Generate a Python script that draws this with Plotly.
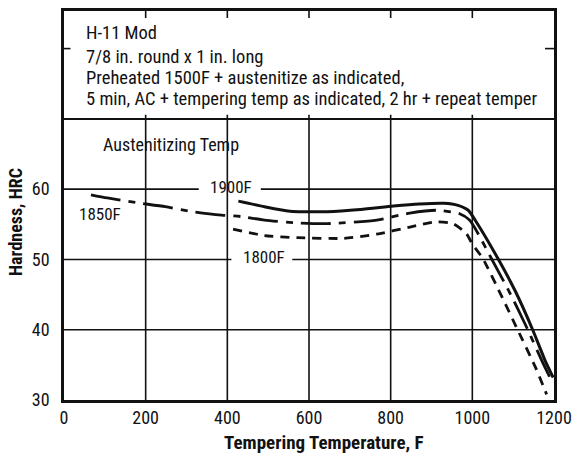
import plotly.graph_objects as go

# Tempering response of H-11 Mod for three austenitizing temperatures
temp_1900 = [427, 491, 548, 645, 726, 807, 870, 930, 965, 990, 1009, 1062, 1106, 1147, 1179, 1198]
hrc_1900 = [58.3, 57.5, 56.9, 56.8, 57.1, 57.6, 57.9, 58.0, 57.7, 57.0, 55.4, 50.2, 45.4, 40.1, 35.5, 33.2]

temp_1850 = [66, 106, 175, 248, 313, 386, 434, 491, 572, 645, 766, 847, 912, 969, 993, 1009,
             1046, 1094, 1135, 1171, 1190]
hrc_1850 = [59.2, 58.75, 58.1, 57.5, 56.8, 56.3, 56.1, 55.6, 55.2, 55.1, 55.6, 56.6, 57.0, 56.5,
            55.6, 54.2, 50.2, 45.0, 40.1, 35.5, 33.2]

temp_1800 = [414, 491, 572, 685, 766, 847, 912, 953, 985, 1001, 1025, 1074, 1110, 1155, 1182]
hrc_1800 = [54.3, 53.4, 53.1, 53.0, 53.6, 54.6, 55.35, 55.1, 53.7, 52.1, 50.2, 44.5, 40.1, 34.6, 30.8]

x_ticks = [0, 200, 400, 600, 800, 1000, 1200]
y_ticks = [30, 40, 50, 60]
h_grid = [40, 50, 60]
v_grid = [200, 400, 600, 800, 1000]

note_lines = [
    "H-11 Mod",
    "7/8 in. round x 1 in. long",
    "Preheated 1500F + austenitize as indicated,",
    "5 min, AC + tempering temp as indicated, 2 hr + repeat temper",
]

X_MIN, X_MAX = 0, 1200
Y_MIN, Y_MAX = 30, 85.35
BOX_BOTTOM = 70

NARROW = "Liberation Sans Narrow, Arial Narrow, Roboto Condensed, sans-serif"
INK = "#111111"

fig = go.Figure()

fig.add_trace(go.Scatter(x=temp_1900, y=hrc_1900, mode="lines", name="1900F",
                         line=dict(color=INK, width=3, shape="spline", smoothing=0.6)))
fig.add_trace(go.Scatter(x=temp_1850, y=hrc_1850, mode="lines", name="1850F",
                         line=dict(color=INK, width=2.8, shape="spline", smoothing=0.6,
                                   dash="30px,8px,7px,8px")))
fig.add_trace(go.Scatter(x=temp_1800, y=hrc_1800, mode="lines", name="1800F",
                         line=dict(color=INK, width=2.8, shape="spline", smoothing=0.6,
                                   dash="9px,7px")))

shapes = []
grid_line = dict(color=INK, width=1.6)

# horizontal grid, broken where the curve labels sit on the line
gaps = {60: (330, 482), 50: (410, 559)}
for y in h_grid:
    if y in gaps:
        a, b = gaps[y]
        segs = [(X_MIN, a), (b, X_MAX)]
    else:
        segs = [(X_MIN, X_MAX)]
    for x0, x1 in segs:
        shapes.append(dict(type="line", xref="x", yref="y", x0=x0, x1=x1, y0=y, y1=y,
                           line=grid_line, layer="below"))

# bottom edge of the note box
shapes.append(dict(type="line", xref="x", yref="y", x0=X_MIN, x1=X_MAX, y0=BOX_BOTTOM,
                   y1=BOX_BOTTOM, line=dict(color=INK, width=2), layer="below"))

# vertical grid inside the chart area, plus short ticks at the top of the box
for x in v_grid:
    shapes.append(dict(type="line", xref="x", yref="y", x0=x, x1=x, y0=Y_MIN, y1=BOX_BOTTOM + 0.6,
                       line=grid_line, layer="below"))
    shapes.append(dict(type="line", xref="x", yref="y", x0=x, x1=x, y0=Y_MAX - 1.0, y1=Y_MAX,
                       line=grid_line, layer="below"))

# side ticks at 80 inside the box
shapes.append(dict(type="line", xref="x", yref="y", x0=X_MIN, x1=X_MIN + 16, y0=80, y1=80,
                   line=grid_line))
shapes.append(dict(type="line", xref="x", yref="y", x0=X_MAX - 22, x1=X_MAX, y0=80, y1=80,
                   line=grid_line))

annotations = []
note_y = [82.24, 78.85, 75.86, 72.9]
for txt, yy in zip(note_lines, note_y):
    annotations.append(dict(x=50, y=yy, xref="x", yref="y", text=txt, showarrow=False,
                            xanchor="left", yanchor="middle",
                            font=dict(family=NARROW, size=18.5, color=INK)))

curve_labels = [
    ("Austenitizing Temp", 91, 66.3, "left", 18),
    ("1900F", 410, 60.3, "center", 17),
    ("1850F", 87, 56.4, "center", 17),
    ("1800F", 490, 50.3, "center", 17),
]
for txt, xx, yy, anchor, size in curve_labels:
    annotations.append(dict(x=xx, y=yy, xref="x", yref="y", text=txt, showarrow=False,
                            xanchor=anchor, yanchor="middle",
                            font=dict(family=NARROW, size=size, color=INK)))

annotations.append(dict(x=0.531, y=-0.1097, xref="paper", yref="paper",
                        text="<b>Tempering Temperature, F</b>", showarrow=False,
                        xanchor="center", yanchor="middle",
                        font=dict(family=NARROW, size=19, color=INK)))
annotations.append(dict(x=-0.099, y=0.459, xref="paper", yref="paper",
                        text="<b>Hardness, HRC</b>", showarrow=False, textangle=-90,
                        xanchor="center", yanchor="middle",
                        font=dict(family=NARROW, size=18, color=INK)))

fig.update_layout(
    width=580, height=457,
    margin=dict(l=64, r=21, t=8, b=57),
    paper_bgcolor="white", plot_bgcolor="white",
    showlegend=False,
    shapes=shapes,
    annotations=annotations,
    xaxis=dict(range=[X_MIN, X_MAX], tickvals=x_ticks, ticktext=[str(v) for v in x_ticks],
               showgrid=False, zeroline=False, showline=True, mirror=True,
               linecolor=INK, linewidth=2.6, ticks="", ticklabelstandoff=0,
               tickfont=dict(family=NARROW, size=18, color=INK)),
    yaxis=dict(range=[Y_MIN, Y_MAX], tickvals=y_ticks, ticktext=[str(v) for v in y_ticks],
               showgrid=False, zeroline=False, showline=True, mirror=True,
               linecolor=INK, linewidth=2.6, ticks="", ticklabelstandoff=8,
               tickfont=dict(family=NARROW, size=18, color=INK)),
)

fig.write_html("out.html")
